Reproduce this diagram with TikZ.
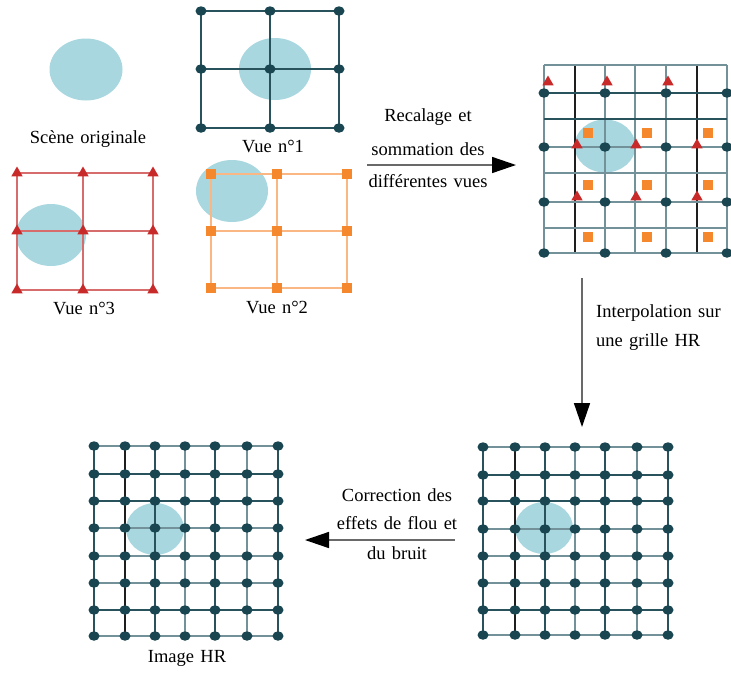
\documentclass[tikz,border=0pt]{standalone}
\usepackage{fontspec}
\setmainfont{Liberation Serif}
\usetikzlibrary{arrows.meta,shapes.geometric}
\definecolor{skyb}{RGB}{168,215,224}
\definecolor{dotc}{RGB}{26,70,82}
\definecolor{gridc}{RGB}{40,82,92}
\definecolor{gridg}{RGB}{115,145,152}
\definecolor{gridk}{RGB}{30,30,30}
\definecolor{redm}{RGB}{200,42,42}
\definecolor{redl}{RGB}{214,108,108}
\definecolor{orm}{RGB}{245,135,45}
\definecolor{orl}{RGB}{250,183,132}
\definecolor{arrg}{RGB}{105,105,105}
\newcommand\myLblFont{\fontsize{18.5}{22}\selectfont\spaceskip=6.3pt plus 2pt minus 1pt\relax}
\tikzset{
  blob/.style={fill=skyb, draw=none},
  hrdot/.style={ellipse, fill=dotc, inner sep=0pt, minimum width=11pt, minimum height=9.5pt},
  tri/.style={regular polygon, regular polygon sides=3, fill=redm, inner sep=0pt, minimum size=13pt},
  sq/.style={rectangle, fill=orm, inner sep=0pt, minimum size=10.5pt},
  lbl/.style={font={\myLblFont}, inner sep=0pt},
  flow/.style={draw=arrg, line width=1.5pt, -{Triangle[length=24pt,width=16pt,color=black]}},
  tgrid/.style={draw=gridc, line width=1.3pt},
  ggrid/.style={draw=gridg, line width=1.3pt},
  kgrid/.style={draw=gridk, line width=1.1pt},
  rgrid/.style={draw=redl, line width=1.5pt},
  ogrid/.style={draw=orl, line width=1.5pt},
}
\begin{document}
\begin{tikzpicture}[x=1pt,y=-1pt]
\useasboundingbox (0,0) rectangle (731,673);

% ---- Scene originale
\fill[blob] (86,69.5) ellipse [x radius=36.5, y radius=31];
\node[lbl] (tscene) at (88,139) {Scène originale};

% ---- Vue n°1
\fill[blob] (275,69) ellipse [x radius=36, y radius=31];
\draw[tgrid] (201,11) rectangle (339,128) (270,11) -- (270,128) (201,69) -- (339,69);
\foreach \x in {201,270,339} \foreach \y in {11,69,128}
  \node[hrdot] (va-\x-\y) at (\x,\y) {};
\node[lbl] (tv1) at (273,146) {Vue n°1};

% ---- Vue n°3
\fill[blob] (51,235) ellipse [x radius=35, y radius=31];
\draw[rgrid] (17,173) rectangle (153,290) (83,173) -- (83,290) (17,231) -- (153,231);
\foreach \x in {17,83,153} \foreach \y in {173,231,290}
  \node[tri] (vc-\x-\y) at (\x,\y) {};
\node[lbl] (tv3) at (84,308) {Vue n°3};

% ---- Vue n°2
\fill[blob] (232,191) ellipse [x radius=36, y radius=31];
\draw[ogrid] (211,174) rectangle (347,288) (277,174) -- (277,288) (211,231) -- (347,231);
\foreach \x in {211,277,347} \foreach \y in {174,231,288}
  \node[sq] (vb-\x-\y) at (\x,\y) {};
\node[lbl] (tv2) at (277,307) {Vue n°2};

% ---- Summed views (top right)
\fill[blob] (605,146) ellipse [x radius=30.5, y radius=26.5];
\foreach \x in {544,605,635,666,727} \draw[ggrid] (\x,65) -- (\x,253);
\foreach \x in {575,697} \draw[kgrid] (\x,65) -- (\x,253);
\foreach \y in {65,147,173,202,228,253} \draw[ggrid] (544,\y) -- (727,\y);
\foreach \y in {93,119} \draw[tgrid] (544,\y) -- (727,\y);
\foreach \x in {544,605,666,727} \foreach \y in {93,147,202,253}
  \node[hrdot] (s-\x-\y) at (\x,\y) {};
\foreach \x in {548,607,668} \node[tri] (st-\x-82) at (\x,82) {};
\foreach \x in {577,636,697} \foreach \y in {145,197}
  \node[tri] (st-\x-\y) at (\x,\y) {};
\foreach \x in {588,647,708} \foreach \y in {133,185,237}
  \node[sq] (ss-\x-\y) at (\x,\y) {};

% ---- HR grid (bottom right)
\fill[blob] (544,528) ellipse [x radius=29, y radius=26];
\foreach \x in {483,545,605,668} \draw[tgrid] (\x,447) -- (\x,635);
\foreach \x in {575,637} \draw[ggrid] (\x,447) -- (\x,635);
\draw[kgrid] (515,447) -- (515,635);
\foreach \y in {475,501,610} \draw[tgrid] (483,\y) -- (668,\y);
\foreach \y in {447,529,556,583,635} \draw[ggrid] (483,\y) -- (668,\y);
\foreach \x in {483,515,545,575,605,637,668} \foreach \y in {447,475,501,529,556,583,610,635}
  \node[hrdot] (h-\x-\y) at (\x,\y) {};

% ---- Image HR (bottom left)
\fill[blob] (155,529) ellipse [x radius=29, y radius=26];
\foreach \x in {94,155,215,278} \draw[tgrid] (\x,446) -- (\x,636);
\foreach \x in {185,247} \draw[ggrid] (\x,446) -- (\x,636);
\draw[kgrid] (125,446) -- (125,636);
\foreach \y in {474,501,610} \draw[tgrid] (94,\y) -- (278,\y);
\foreach \y in {446,528,556,583,636} \draw[ggrid] (94,\y) -- (278,\y);
\foreach \x in {94,125,155,185,215,247,278} \foreach \y in {446,474,501,528,556,583,610,636}
  \node[hrdot] (g-\x-\y) at (\x,\y) {};
\node[lbl] (thr) at (187,658) {Image HR};

% ---- Arrows and their labels
\coordinate (a1s) at (367,165);
\coordinate (a1e) at (516,165);
\draw[flow] (a1s) -- (a1e);
\node[lbl] (r1) at (428,117) {Recalage et};
\node[lbl] (r2) at (428,149) {sommation des};
\node[lbl] (r3) at (428,181) {différentes vues};

\coordinate (a2s) at (582,278);
\coordinate (a2e) at (582,427);
\draw[flow] (a2s) -- (a2e);
\node[lbl, anchor=west] (i1) at (596,313) {Interpolation sur};
\node[lbl, anchor=west] (i2) at (596,342) {une grille HR};

\coordinate (a3s) at (455,540);
\coordinate (a3e) at (305,540);
\draw[flow] (a3s) -- (a3e);
\node[lbl] (c1) at (397,495) {Correction des};
\node[lbl] (c2) at (397,523) {effets de flou et};
\node[lbl] (c3) at (397,553) {du bruit};
\end{tikzpicture}
\end{document}
